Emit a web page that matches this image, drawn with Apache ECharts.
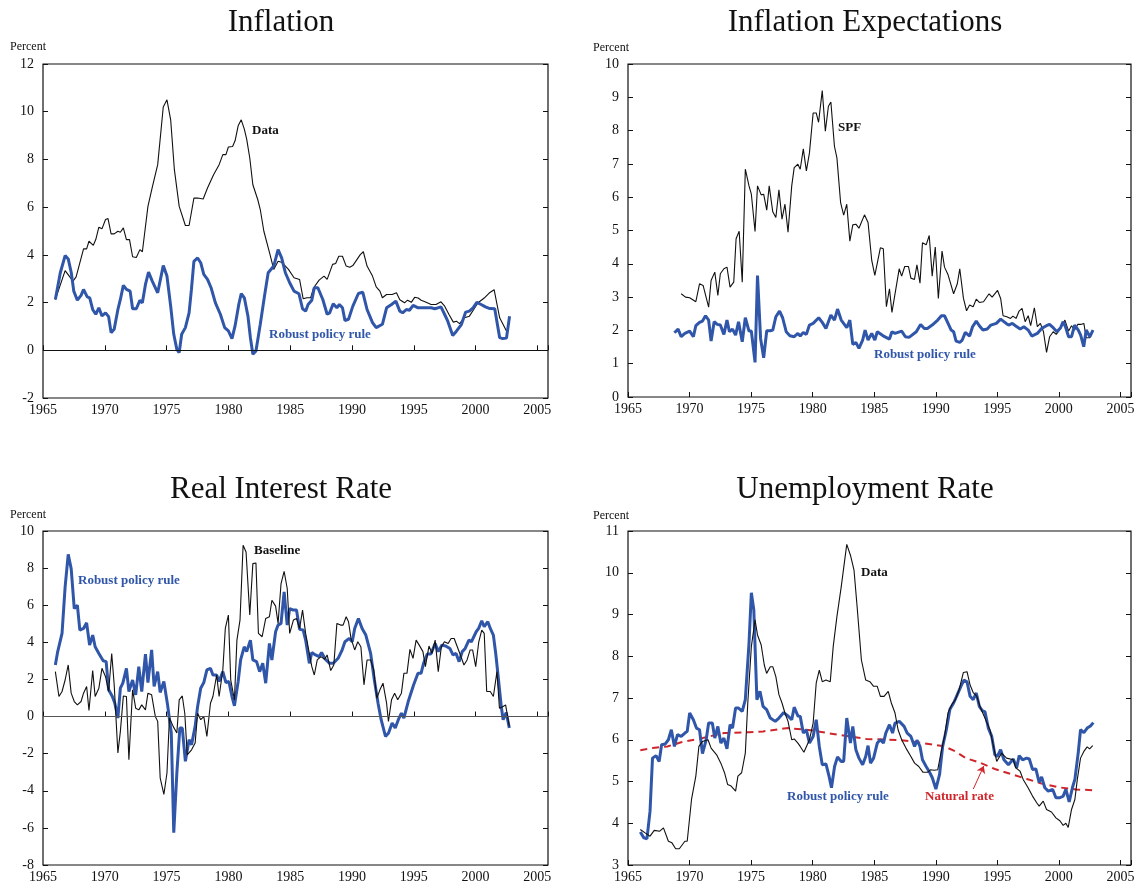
<!DOCTYPE html>
<html>
<head>
<meta charset="utf-8">
<script src="https://cdn.jsdelivr.net/npm/echarts@6/dist/echarts.min.js"></script>
<style>
  html, body { margin: 0; padding: 0; background: #fff; }
  #chart { width: 1141px; height: 892px; }
</style>
</head>
<body>
<div id="chart"></div>
<script>
// panel 1: inflation
var inflationData = [[1966.0,2.13],[1966.79,3.34],[1967.43,2.9],[1967.68,3.08],[1968.28,4.25],[1968.53,4.25],[1968.72,4.57],[1969.07,4.4],[1969.27,4.64],[1969.52,5.16],[1969.77,5.09],[1970.06,5.48],[1970.26,5.52],[1970.51,4.88],[1970.76,4.88],[1971.06,4.99],[1971.26,4.95],[1971.5,5.13],[1971.75,4.64],[1972.0,4.64],[1972.25,3.92],[1972.55,3.89],[1972.84,4.22],[1973.04,4.13],[1973.49,6.03],[1973.84,6.83],[1974.28,7.78],[1974.73,10.2],[1975.03,10.5],[1975.33,9.66],[1975.63,7.57],[1976.02,6.03],[1976.52,5.23],[1976.82,5.23],[1977.21,6.38],[1977.51,6.38],[1977.96,6.34],[1978.31,6.8],[1978.8,7.36],[1979.25,7.78],[1979.55,8.2],[1979.8,8.2],[1980.0,8.52],[1980.34,8.54],[1980.54,8.78],[1980.79,9.41],[1981.04,9.66],[1981.29,9.27],[1981.48,8.85],[1981.73,8.06],[1981.98,6.94],[1982.38,6.31],[1982.58,5.9],[1982.87,4.99],[1983.37,4.01],[1983.67,3.39],[1984.02,3.73],[1984.31,3.69],[1984.86,3.39],[1985.31,3.04],[1985.76,2.97],[1986.05,2.16],[1986.35,2.2],[1986.65,2.2],[1986.9,2.62],[1987.34,2.94],[1987.74,3.11],[1987.99,2.97],[1988.43,3.6],[1988.68,3.64],[1988.93,3.94],[1989.23,3.94],[1989.53,3.53],[1989.82,3.48],[1990.07,3.55],[1990.37,3.78],[1990.67,4.01],[1990.92,4.13],[1991.22,3.53],[1991.66,3.11],[1991.96,2.66],[1992.26,2.48],[1992.46,2.2],[1992.8,2.34],[1993.25,2.34],[1993.6,2.41],[1993.87,2.12],[1994.25,1.99],[1994.5,2.1],[1994.8,2.01],[1995.07,2.22],[1995.35,2.19],[1995.6,2.1],[1996.0,2.01],[1996.4,1.92],[1996.8,1.92],[1996.95,1.85],[1997.2,2.03],[1997.5,1.85],[1997.85,1.5],[1998.2,1.18],[1998.45,1.22],[1998.7,1.12],[1999.1,1.36],[1999.5,1.43],[1999.85,1.71],[2000.2,1.99],[2000.7,2.19],[2001.1,2.4],[2001.5,2.54],[2001.95,1.36],[2002.55,0.76]];
var inflationRobust = [[1966.0,2.13],[1966.4,3.25],[1966.79,3.97],[1967.04,3.83],[1967.29,3.25],[1967.49,2.48],[1967.78,2.1],[1968.08,2.3],[1968.28,2.55],[1968.58,2.24],[1968.78,2.2],[1969.02,1.71],[1969.27,1.51],[1969.52,1.78],[1969.77,1.44],[1970.06,1.57],[1970.31,1.41],[1970.51,0.74],[1970.76,0.88],[1971.06,1.71],[1971.26,2.13],[1971.5,2.72],[1971.75,2.55],[1972.05,2.48],[1972.25,1.74],[1972.55,1.74],[1972.84,2.09],[1973.04,1.99],[1973.29,2.76],[1973.54,3.28],[1973.84,2.9],[1974.28,2.41],[1974.73,3.55],[1975.03,3.11],[1975.33,1.85],[1975.58,0.67],[1975.83,0.04],[1976.02,-0.1],[1976.22,0.67],[1976.52,0.95],[1976.82,1.57],[1977.01,2.55],[1977.21,3.73],[1977.51,3.87],[1977.76,3.67],[1978.01,3.18],[1978.31,2.97],[1978.6,2.62],[1978.95,1.99],[1979.35,1.51],[1979.7,0.95],[1980.0,0.81],[1980.29,0.49],[1980.54,1.02],[1980.84,1.92],[1981.04,2.38],[1981.29,2.2],[1981.58,1.44],[1981.78,0.53],[1981.98,-0.17],[1982.23,-0.03],[1982.58,1.09],[1982.92,2.27],[1983.22,3.25],[1983.67,3.53],[1984.02,4.22],[1984.31,3.87],[1984.61,3.25],[1984.96,2.83],[1985.31,2.48],[1985.71,2.37],[1986.0,1.74],[1986.25,1.64],[1986.45,1.92],[1986.75,2.1],[1986.95,2.62],[1987.24,2.62],[1987.64,2.13],[1987.99,1.51],[1988.19,1.57],[1988.48,1.95],[1988.78,1.78],[1988.98,1.92],[1989.23,1.78],[1989.43,1.25],[1989.72,1.3],[1990.07,1.85],[1990.52,2.38],[1990.87,2.44],[1991.22,1.71],[1991.66,1.16],[1991.96,0.95],[1992.46,1.09],[1992.8,1.78],[1993.2,1.92],[1993.55,2.06],[1993.87,1.64],[1994.1,1.57],[1994.4,1.71],[1994.65,1.68],[1994.95,1.88],[1995.35,1.78],[1995.6,1.78],[1996.0,1.78],[1996.4,1.78],[1996.7,1.74],[1996.95,1.78],[1997.2,1.82],[1997.5,1.5],[1997.75,1.22],[1998.15,0.62],[1998.45,0.8],[1998.85,1.08],[1999.2,1.6],[1999.5,1.64],[1999.8,1.78],[2000.1,2.01],[2000.45,1.92],[2000.8,1.82],[2001.15,1.75],[2001.55,1.74],[2001.95,0.53],[2002.2,0.49],[2002.5,0.51],[2002.75,1.43]];

// panel 2: inflation expectations
var spfData = [[1969.32,3.1],[1969.67,3.0],[1970.01,2.98],[1970.51,2.86],[1970.81,3.4],[1971.1,3.35],[1971.55,2.7],[1971.75,3.5],[1972.05,3.75],[1972.3,3.05],[1972.5,3.7],[1972.79,3.85],[1973.04,3.9],[1973.29,3.3],[1973.59,3.45],[1973.78,4.75],[1974.03,4.98],[1974.28,3.45],[1974.53,6.84],[1974.83,6.34],[1975.02,6.09],[1975.32,4.97],[1975.52,6.34],[1975.82,6.07],[1976.02,6.09],[1976.27,5.61],[1976.47,6.34],[1976.76,5.56],[1977.01,5.39],[1977.26,6.22],[1977.51,5.34],[1977.75,5.79],[1978.0,4.95],[1978.3,6.34],[1978.5,6.89],[1978.8,6.99],[1978.99,6.84],[1979.24,7.45],[1979.49,6.79],[1979.74,7.33],[1980.04,8.53],[1980.29,8.53],[1980.48,8.25],[1980.78,9.2],[1981.03,7.98],[1981.28,8.73],[1981.48,8.86],[1981.77,7.53],[1981.97,7.18],[1982.27,5.84],[1982.52,5.46],[1982.77,5.79],[1983.02,4.68],[1983.26,5.17],[1983.51,5.19],[1983.76,5.07],[1984.21,5.47],[1984.5,5.24],[1984.8,4.1],[1985.05,3.65],[1985.5,4.48],[1985.74,4.45],[1985.99,2.71],[1986.24,3.25],[1986.44,2.54],[1987.03,3.85],[1987.23,3.63],[1987.48,3.92],[1987.78,3.92],[1987.98,3.57],[1988.27,3.53],[1988.47,3.97],[1988.72,3.42],[1988.92,4.63],[1989.22,4.57],[1989.47,4.85],[1989.71,3.63],[1989.96,4.5],[1990.21,2.96],[1990.51,4.38],[1990.71,3.9],[1991.0,3.67],[1991.45,3.1],[1991.75,3.4],[1991.95,3.85],[1992.25,2.96],[1992.5,2.59],[1992.75,2.76],[1993.04,2.71],[1993.29,2.94],[1993.54,2.84],[1993.88,2.86],[1994.33,3.1],[1994.58,3.0],[1995.02,3.2],[1995.27,2.96],[1995.47,2.44],[1995.77,2.41],[1996.07,2.36],[1996.27,2.43],[1996.52,2.36],[1996.77,2.58],[1997.01,2.66],[1997.26,2.26],[1997.51,2.44],[1997.71,2.14],[1998.01,2.68],[1998.25,2.11],[1998.5,2.21],[1998.75,1.96],[1999.0,1.34],[1999.25,1.81],[1999.54,1.96],[1999.79,1.88],[2000.14,2.06],[2000.49,2.31],[2000.79,1.98],[2001.03,2.14],[2001.28,2.01],[2001.53,2.18],[2001.78,2.18],[2002.03,2.21],[2002.22,1.78],[2002.52,1.78],[2002.77,2.01]];
var expectRobust = [[1968.77,1.93],[1969.07,2.04],[1969.32,1.81],[1969.62,1.91],[1970.01,1.98],[1970.31,1.81],[1970.51,2.14],[1970.81,2.24],[1971.05,2.28],[1971.3,2.44],[1971.55,2.31],[1971.75,1.68],[1972.0,2.26],[1972.25,2.18],[1972.5,2.16],[1972.79,1.88],[1973.04,2.31],[1973.24,1.96],[1973.49,2.04],[1973.74,1.86],[1973.98,2.26],[1974.28,1.66],[1974.53,2.38],[1974.83,1.98],[1975.02,1.98],[1975.32,1.04],[1975.52,3.65],[1975.77,1.76],[1976.02,1.18],[1976.27,1.99],[1976.56,1.99],[1976.76,2.01],[1977.01,2.41],[1977.31,2.58],[1977.56,2.38],[1977.85,1.96],[1978.15,1.84],[1978.5,1.81],[1978.8,1.91],[1978.99,1.83],[1979.24,1.94],[1979.49,1.88],[1979.74,2.16],[1980.04,2.21],[1980.49,2.38],[1980.78,2.24],[1981.08,2.06],[1981.48,2.46],[1981.77,2.31],[1982.02,2.64],[1982.32,2.31],[1982.77,2.08],[1983.02,2.31],[1983.26,1.58],[1983.51,1.64],[1983.76,1.46],[1984.06,1.71],[1984.26,2.01],[1984.5,1.71],[1984.8,1.91],[1985.05,1.71],[1985.25,1.96],[1985.84,1.81],[1986.24,1.74],[1986.44,1.96],[1986.69,1.91],[1987.23,1.98],[1987.53,1.81],[1987.83,1.79],[1988.42,1.96],[1988.77,2.18],[1989.07,2.06],[1989.32,2.06],[1989.71,2.16],[1990.16,2.31],[1990.46,2.44],[1990.71,2.44],[1991.0,2.21],[1991.25,2.01],[1991.45,1.96],[1991.65,1.68],[1991.95,1.64],[1992.15,1.71],[1992.4,1.94],[1992.75,1.83],[1992.99,2.11],[1993.29,2.28],[1993.54,2.14],[1993.83,2.01],[1994.18,2.04],[1994.48,2.16],[1994.92,2.21],[1995.27,2.34],[1995.72,2.21],[1995.92,2.16],[1996.22,2.21],[1996.47,2.14],[1996.86,2.04],[1997.16,2.11],[1997.51,2.01],[1997.8,1.83],[1998.25,1.91],[1998.6,2.06],[1998.99,2.14],[1999.24,2.18],[1999.54,2.08],[1999.84,1.96],[2000.14,2.08],[2000.34,2.26],[2000.54,2.11],[2000.79,1.81],[2001.03,1.81],[2001.28,2.16],[2001.58,2.01],[2001.77,1.86],[2002.02,1.51],[2002.22,2.01],[2002.52,1.81],[2002.77,2.01]];

// panel 3: real interest rate
var realBaseline = [[1966.0,2.42],[1966.29,1.08],[1966.54,1.35],[1966.79,1.97],[1967.04,2.78],[1967.28,1.26],[1967.53,0.81],[1967.78,0.63],[1968.08,0.81],[1968.28,1.26],[1968.53,1.62],[1968.72,0.33],[1969.02,2.48],[1969.22,1.08],[1969.52,1.53],[1969.77,2.6],[1970.06,2.15],[1970.31,1.35],[1970.56,3.4],[1970.76,1.71],[1971.06,-1.96],[1971.26,-0.8],[1971.5,1.11],[1971.75,1.08],[1971.95,-2.32],[1972.25,1.44],[1972.5,0.45],[1972.75,0.36],[1972.99,0.63],[1973.29,0.36],[1973.49,1.26],[1973.79,1.17],[1974.09,0.0],[1974.28,-0.26],[1974.48,-3.3],[1974.78,-4.2],[1975.03,-3.04],[1975.23,-0.08],[1975.53,-0.53],[1975.83,-0.89],[1976.02,0.9],[1976.27,1.11],[1976.47,0.18],[1976.67,-2.06],[1977.02,-1.79],[1977.31,-1.43],[1977.51,0.18],[1977.76,-0.17],[1978.01,0.0],[1978.26,-1.07],[1978.55,0.72],[1978.75,1.08],[1979.05,2.24],[1979.25,1.08],[1979.55,2.51],[1979.75,4.75],[1980.0,5.47],[1980.19,1.97],[1980.49,0.9],[1980.69,4.12],[1980.94,5.2],[1981.19,9.23],[1981.43,8.87],[1981.73,5.47],[1981.98,8.24],[1982.23,8.28],[1982.43,4.48],[1982.73,4.3],[1983.02,5.29],[1983.32,5.38],[1983.52,6.27],[1983.82,5.95],[1984.02,5.02],[1984.26,7.17],[1984.51,7.83],[1984.76,6.9],[1984.96,4.48],[1985.26,5.2],[1985.51,5.29],[1985.76,4.75],[1986.0,5.74],[1986.25,4.48],[1986.55,3.4],[1986.75,2.69],[1986.95,2.24],[1987.19,3.05],[1987.49,3.23],[1987.79,3.09],[1987.99,3.32],[1988.28,2.48],[1988.53,2.78],[1988.78,5.02],[1989.08,4.93],[1989.28,4.93],[1989.53,5.38],[1989.72,5.11],[1989.92,4.21],[1990.22,3.59],[1990.47,4.03],[1990.72,3.76],[1990.97,1.71],[1991.22,3.05],[1991.51,3.05],[1991.76,2.51],[1992.01,0.99],[1992.26,1.44],[1992.51,1.8],[1992.8,0.72],[1992.95,-0.26],[1993.2,0.9],[1993.45,1.26],[1993.7,0.9],[1994.0,1.26],[1994.2,2.33],[1994.45,2.33],[1994.69,3.62],[1994.94,3.14],[1995.19,4.12],[1995.44,3.85],[1995.74,3.5],[1995.94,2.69],[1996.23,3.8],[1996.48,3.4],[1996.73,4.12],[1996.98,2.42],[1997.23,3.76],[1997.48,4.03],[1997.78,3.94],[1998.02,4.21],[1998.27,4.21],[1998.52,3.76],[1998.77,3.32],[1999.06,2.78],[1999.31,3.05],[1999.56,3.59],[1999.76,3.59],[2000.01,2.69],[2000.26,4.03],[2000.5,4.66],[2000.7,4.48],[2000.9,1.35],[2001.19,1.35],[2001.44,1.08],[2001.73,2.42],[2001.93,0.45],[2002.23,0.54],[2002.43,0.63],[2002.73,-0.53]];
var realRobust = [[1966.0,2.78],[1966.19,3.5],[1966.54,4.48],[1966.79,6.99],[1967.04,8.74],[1967.28,7.97],[1967.53,5.82],[1967.78,6.0],[1967.98,4.66],[1968.28,4.75],[1968.53,5.05],[1968.77,3.85],[1969.02,4.39],[1969.22,3.76],[1969.52,3.4],[1969.87,3.01],[1970.11,2.96],[1970.31,1.44],[1970.61,1.08],[1970.81,0.72],[1971.06,-0.08],[1971.26,1.53],[1971.46,1.8],[1971.75,2.6],[1971.95,1.35],[1972.25,1.97],[1972.5,1.17],[1972.75,2.69],[1972.99,1.35],[1973.29,3.37],[1973.49,1.83],[1973.79,3.59],[1973.99,1.62],[1974.28,2.42],[1974.48,1.3],[1974.78,1.89],[1975.08,0.63],[1975.38,-0.89],[1975.58,-6.26],[1975.83,-3.04],[1976.07,-0.62],[1976.27,-0.62],[1976.52,-2.41],[1976.82,-1.25],[1977.02,-1.52],[1977.31,-0.53],[1977.51,0.54],[1977.76,1.53],[1978.01,1.83],[1978.26,2.51],[1978.55,2.6],[1978.75,2.24],[1979.05,2.24],[1979.25,1.89],[1979.55,2.42],[1979.8,1.83],[1980.04,1.89],[1980.29,1.08],[1980.49,0.58],[1980.79,1.89],[1980.99,3.05],[1981.28,3.76],[1981.48,3.5],[1981.78,4.12],[1981.98,3.05],[1982.28,2.96],[1982.53,2.42],[1982.78,2.87],[1983.02,1.8],[1983.32,3.94],[1983.52,3.05],[1983.82,4.57],[1984.02,4.93],[1984.26,5.02],[1984.51,6.72],[1984.76,4.93],[1984.96,5.82],[1985.26,5.74],[1985.51,5.74],[1985.76,4.7],[1986.05,4.66],[1986.25,4.12],[1986.55,2.87],[1986.75,3.45],[1987.05,3.32],[1987.34,3.23],[1987.54,3.45],[1987.84,3.09],[1988.19,2.87],[1988.49,2.87],[1988.88,3.14],[1989.18,3.55],[1989.43,4.03],[1989.78,4.21],[1990.02,4.03],[1990.22,4.75],[1990.52,5.29],[1990.82,4.75],[1991.12,4.39],[1991.51,3.4],[1991.81,1.97],[1992.11,0.72],[1992.36,-0.17],[1992.71,-1.07],[1992.96,-0.89],[1993.25,-0.35],[1993.5,-0.62],[1993.75,-0.17],[1994.0,0.18],[1994.2,-0.08],[1994.55,0.81],[1994.99,1.71],[1995.34,2.33],[1995.59,2.33],[1995.79,2.87],[1996.09,3.37],[1996.38,3.37],[1996.73,3.94],[1996.98,3.5],[1997.28,3.85],[1997.58,3.8],[1997.92,3.67],[1998.17,3.32],[1998.42,3.4],[1998.67,2.96],[1998.92,3.5],[1999.16,3.67],[1999.46,4.12],[1999.66,4.03],[2000.05,4.57],[2000.25,4.75],[2000.5,5.16],[2000.7,4.84],[2000.99,5.11],[2001.19,4.75],[2001.44,4.39],[2001.63,3.4],[2001.83,2.15],[2002.08,0.54],[2002.23,-0.17],[2002.48,0.22],[2002.73,-0.62]];

// panel 4: unemployment rate
var unempData = [[1966.0,3.85],[1966.39,3.77],[1966.79,3.69],[1967.13,3.83],[1967.58,3.81],[1967.88,3.89],[1968.28,3.57],[1968.57,3.53],[1968.87,3.39],[1969.17,3.39],[1969.62,3.57],[1969.81,3.57],[1970.16,4.57],[1970.51,5.13],[1970.76,5.84],[1971.05,5.96],[1971.5,6.0],[1971.75,5.8],[1972.2,5.64],[1972.54,5.44],[1972.84,5.21],[1973.09,4.93],[1973.34,4.9],[1973.74,4.77],[1973.93,5.13],[1974.23,5.21],[1974.53,5.68],[1974.73,6.88],[1975.02,8.23],[1975.32,8.87],[1975.52,8.51],[1975.82,8.27],[1976.07,7.79],[1976.26,7.59],[1976.56,7.75],[1976.76,7.75],[1977.01,7.51],[1977.26,7.08],[1977.51,6.88],[1977.75,6.64],[1978.0,6.44],[1978.3,6.0],[1978.5,6.02],[1978.8,5.92],[1978.99,5.84],[1979.29,5.7],[1979.74,6.0],[1980.04,6.4],[1980.29,7.36],[1980.54,7.67],[1980.78,7.39],[1981.08,7.43],[1981.43,7.39],[1981.67,8.23],[1981.97,8.95],[1982.32,9.66],[1982.77,10.68],[1983.07,10.42],[1983.36,10.06],[1983.61,9.19],[1983.96,7.91],[1984.31,7.43],[1984.65,7.39],[1984.95,7.28],[1985.25,7.28],[1985.5,7.04],[1985.8,7.04],[1986.14,7.16],[1986.39,6.88],[1986.69,6.64],[1986.94,6.24],[1987.23,6.0],[1987.58,5.8],[1987.98,5.6],[1988.28,5.44],[1988.62,5.36],[1988.97,5.22],[1989.32,5.22],[1989.57,5.28],[1989.86,5.27],[1990.16,5.28],[1990.41,5.67],[1990.71,6.08],[1991.0,6.65],[1991.3,6.84],[1991.6,6.96],[1991.9,7.2],[1992.24,7.61],[1992.54,7.63],[1992.79,7.31],[1993.04,7.13],[1993.34,7.04],[1993.6,6.79],[1994.4,6.24],[1994.95,5.48],[1995.35,5.68],[1995.75,5.56],[1996.3,5.52],[1996.5,5.33],[1996.84,5.25],[1997.1,5.05],[1997.5,4.85],[1997.86,4.65],[1998.2,4.49],[1998.4,4.41],[1998.73,4.53],[1999.0,4.33],[1999.4,4.27],[1999.76,4.13],[2000.08,4.06],[2000.35,3.95],[2000.57,4.0],[2000.76,3.9],[2001.03,4.33],[2001.3,4.57],[2001.5,5.05],[2001.76,5.56],[2002.03,5.72],[2002.3,5.83],[2002.5,5.78],[2002.75,5.86]];
var unempRobust = [[1966.0,3.79],[1966.29,3.65],[1966.54,3.63],[1966.79,4.29],[1966.99,5.56],[1967.28,5.62],[1967.53,5.48],[1967.73,5.88],[1968.03,5.9],[1968.28,6.0],[1968.52,6.24],[1968.77,5.84],[1969.02,6.12],[1969.32,6.08],[1969.62,6.16],[1969.81,6.2],[1970.01,6.64],[1970.31,6.48],[1970.56,6.28],[1970.81,6.24],[1971.05,5.67],[1971.35,6.0],[1971.55,6.4],[1971.85,6.4],[1972.05,6.04],[1972.3,6.32],[1972.54,5.92],[1972.79,6.04],[1973.04,5.78],[1973.29,6.36],[1973.49,6.28],[1973.74,6.76],[1973.98,6.76],[1974.28,6.68],[1974.53,6.96],[1974.83,8.31],[1975.02,9.52],[1975.22,9.11],[1975.47,6.96],[1975.72,7.16],[1975.97,6.8],[1976.26,6.72],[1976.56,6.52],[1976.96,6.44],[1977.26,6.52],[1977.65,6.65],[1978.0,6.57],[1978.3,6.48],[1978.5,6.78],[1978.8,6.57],[1978.99,6.56],[1979.24,6.16],[1979.49,6.24],[1979.74,5.92],[1980.04,6.08],[1980.29,6.48],[1980.54,5.84],[1980.78,5.4],[1981.08,5.42],[1981.33,5.13],[1981.53,4.85],[1981.78,5.36],[1982.02,5.59],[1982.32,5.48],[1982.52,5.48],[1982.77,6.52],[1983.07,5.92],[1983.26,6.32],[1983.51,5.76],[1983.76,5.56],[1984.06,5.4],[1984.31,5.6],[1984.5,5.86],[1984.7,5.44],[1984.95,5.56],[1985.25,5.92],[1985.5,6.0],[1985.75,5.92],[1985.94,6.16],[1986.24,6.36],[1986.49,6.16],[1986.69,6.4],[1987.04,6.44],[1987.43,6.32],[1987.68,6.16],[1987.98,6.08],[1988.28,5.84],[1988.47,5.99],[1988.72,5.84],[1988.92,5.52],[1989.22,5.36],[1989.52,5.21],[1989.72,5.09],[1990.01,4.82],[1990.31,5.17],[1990.56,5.84],[1990.86,6.24],[1991.15,6.73],[1991.45,6.88],[1991.75,7.08],[1992.04,7.28],[1992.29,7.43],[1992.54,7.39],[1992.79,7.04],[1993.04,6.96],[1993.29,7.12],[1993.54,6.8],[1993.78,6.7],[1994.0,6.67],[1994.27,6.28],[1994.55,6.08],[1994.8,5.64],[1995.0,5.6],[1995.27,5.76],[1995.54,5.52],[1995.9,5.4],[1996.3,5.54],[1996.57,5.33],[1996.78,5.62],[1997.05,5.52],[1997.38,5.56],[1997.6,5.54],[1997.86,5.29],[1998.13,5.3],[1998.4,4.98],[1998.6,5.11],[1998.86,4.85],[1999.14,4.77],[1999.5,4.81],[1999.76,4.61],[2000.08,4.61],[2000.35,4.65],[2000.57,4.81],[2000.84,4.51],[2001.1,4.85],[2001.3,5.05],[2001.57,5.68],[2001.76,6.24],[2002.03,6.17],[2002.3,6.28],[2002.57,6.33],[2002.8,6.41]];
var naturalRate = [[1966.0,5.75],[1967.0,5.8],[1968.2,5.84],[1969.32,5.94],[1970.76,6.02],[1972.79,6.16],[1974.83,6.18],[1975.97,6.2],[1978.0,6.28],[1980.04,6.22],[1982.02,6.12],[1984.36,6.02],[1987.23,5.99],[1988.97,5.92],[1990.71,5.84],[1991.6,5.72],[1992.45,5.56],[1993.6,5.45],[1994.8,5.3],[1996.2,5.17],[1997.4,5.06],[1998.5,4.96],[2000.0,4.86],[2001.4,4.81],[2002.8,4.79]];
var arrowTail = [1993.05, 4.82];
var arrowTip = [1993.9, 5.37];

// axis ranges [min, max, step]
var yRanges = [[-2, 12, 2], [0, 10, 1], [-8, 10, 2], [3, 11, 1]];

var serif = 'Liberation Serif';
var blue = '#3056a9';
var red = '#d0262b';

var grids = [
  { left: 43, top: 64, width: 505, height: 334 },
  { left: 628, top: 64, width: 503, height: 333 },
  { left: 43, top: 531, width: 505, height: 334 },
  { left: 628, top: 531, width: 503, height: 334 }
];
grids.forEach(function (g) {
  g.show = true; g.borderColor = '#111'; g.borderWidth = 1.2; g.backgroundColor = 'transparent';
});

var xAxes = [], yAxes = [];
for (var i = 0; i < 4; i++) {
  xAxes.push({
    type: 'value', gridIndex: i, min: 1965, max: 2005.86, interval: 5,
    axisLine: { show: false },
    axisTick: { inside: true, length: 5, lineStyle: { color: '#111' } },
    splitLine: { show: false },
    axisLabel: {
      formatter: function (v) { return v % 5 === 0 ? String(v) : ''; },
      fontFamily: serif, fontSize: 14, color: '#111', margin: 5
    }
  });
  var r = yRanges[i];
  yAxes.push({
    type: 'value', gridIndex: i, min: r[0], max: r[1], interval: r[2], position: 'left',
    axisLine: { show: false },
    axisTick: { inside: true, length: 5, lineStyle: { color: '#111' } },
    splitLine: { show: false },
    axisLabel: { fontFamily: serif, fontSize: 14, color: '#111', margin: 9 }
  });
  yAxes.push({
    type: 'value', gridIndex: i, min: r[0], max: r[1], interval: r[2], position: 'right',
    axisLine: { show: false },
    axisTick: { inside: true, length: 5, lineStyle: { color: '#111' } },
    splitLine: { show: false },
    axisLabel: { show: false }
  });
}

function line(idx, data, color, width, extra) {
  var s = {
    type: 'line', xAxisIndex: idx, yAxisIndex: idx * 2, data: data,
    showSymbol: false, symbol: 'none', silent: true,
    lineStyle: { color: color, width: width }
  };
  for (var k in extra) s[k] = extra[k];
  return s;
}

var zeroLine = function (color) {
  return {
    silent: true, symbol: 'none', label: { show: false },
    lineStyle: { color: color, width: 1, type: 'solid' },
    data: [{ yAxis: 0 }]
  };
};

var series = [
  line(0, inflationData, '#111', 1.1, { markLine: zeroLine('#111') }),
  line(0, inflationRobust, blue, 3),
  line(1, spfData, '#111', 1.1),
  line(1, expectRobust, blue, 3),
  line(2, realRobust, blue, 3, { markLine: zeroLine('#555') }),
  line(2, realBaseline, '#111', 1.1),
  line(3, naturalRate, red, 2, {
    lineStyle: { color: red, width: 2, type: [7, 5] },
    markLine: {
      silent: true, symbol: ['none', 'arrow'], symbolSize: 7, label: { show: false },
      lineStyle: { color: red, width: 1, type: 'solid' },
      data: [[{ coord: arrowTail }, { coord: arrowTip }]]
    }
  }),
  line(3, unempRobust, blue, 3),
  line(3, unempData, '#111', 1.1)
];

function txt(x, y, text, opts) {
  var st = { text: text, font: (opts.font || '13px') + ' "' + serif + '"', fill: opts.fill || '#111',
    align: opts.align || 'left', verticalAlign: 'middle' };
  return { type: 'text', x: x, y: y, silent: true, z: 100, style: st };
}

var graphics = [
  txt(281, 23, 'Inflation', { font: '31px', align: 'center' }),
  txt(865, 23, 'Inflation Expectations', { font: '31px', align: 'center' }),
  txt(281, 490, 'Real Interest Rate', { font: '31px', align: 'center' }),
  txt(865, 490, 'Unemployment Rate', { font: '31px', align: 'center' }),
  txt(10, 47, 'Percent', { font: '12px' }),
  txt(593, 48, 'Percent', { font: '12px' }),
  txt(10, 515, 'Percent', { font: '12px' }),
  txt(593, 516, 'Percent', { font: '12px' }),
  txt(252, 131, 'Data', { font: 'bold 13px' }),
  txt(269, 335, 'Robust policy rule', { font: 'bold 13px', fill: blue }),
  txt(838, 128, 'SPF', { font: 'bold 13px' }),
  txt(874, 355, 'Robust policy rule', { font: 'bold 13px', fill: blue }),
  txt(254, 551, 'Baseline', { font: 'bold 13px' }),
  txt(78, 581, 'Robust policy rule', { font: 'bold 13px', fill: blue }),
  txt(861, 573, 'Data', { font: 'bold 13px' }),
  txt(787, 797, 'Robust policy rule', { font: 'bold 13px', fill: blue }),
  txt(925, 797, 'Natural rate', { font: 'bold 13px', fill: red })
];

var chart = echarts.init(document.getElementById('chart'), null, { renderer: 'canvas' });
chart.setOption({
  animation: false,
  backgroundColor: '#fff',
  grid: grids,
  xAxis: xAxes,
  yAxis: yAxes,
  series: series,
  graphic: { elements: graphics }
});
</script>
</body>
</html>
